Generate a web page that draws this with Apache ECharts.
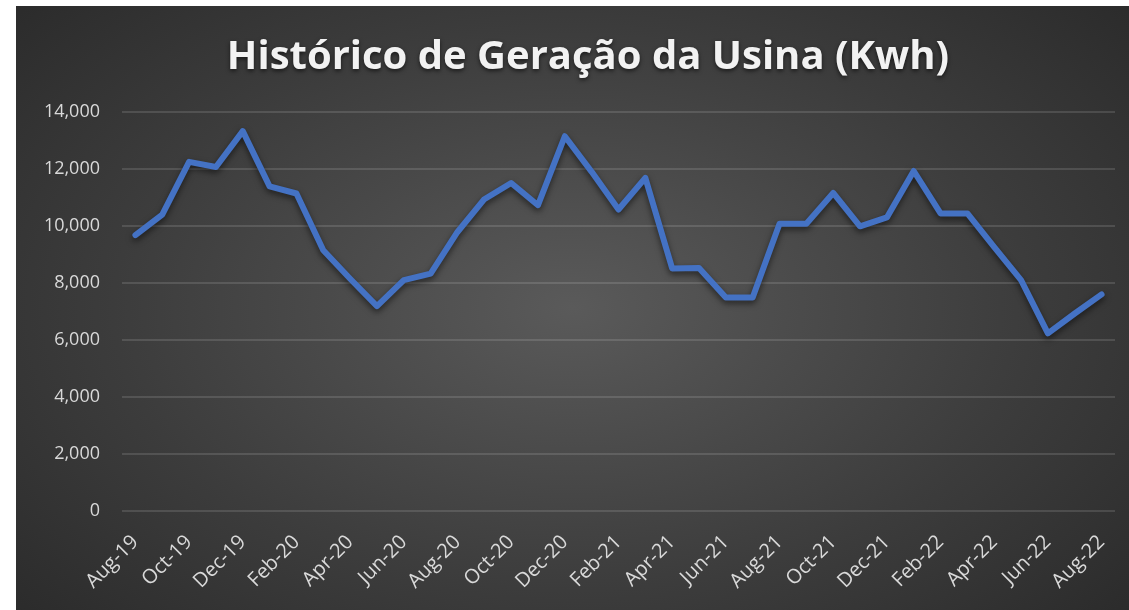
<!DOCTYPE html>
<html>
<head>
<meta charset="utf-8">
<script src="https://cdn.jsdelivr.net/npm/echarts@6/dist/echarts.min.js"></script>
<style>
  html, body { margin: 0; padding: 0; background: #ffffff; width: 1129px; height: 610px; overflow: hidden; }
  #wrap { position: absolute; left: 16px; top: 6px; width: 1113px; height: 604px;
          background: radial-gradient(ellipse 75% 85% at 50% 50%, #5a5a5a 0%, #3c3c3c 55%, #262626 100%); }
  #chart { width: 1113px; height: 604px; }
</style>
</head>
<body>
<div id="wrap"><div id="chart"></div></div>
<script>
const titleText = 'Histórico de Geração da Usina (Kwh)';
const months = ['Aug-19','Sep-19','Oct-19','Nov-19','Dec-19','Jan-20','Feb-20','Mar-20','Apr-20','May-20','Jun-20','Jul-20',
  'Aug-20','Sep-20','Oct-20','Nov-20','Dec-20','Jan-21','Feb-21','Mar-21','Apr-21','May-21','Jun-21','Jul-21',
  'Aug-21','Sep-21','Oct-21','Nov-21','Dec-21','Jan-22','Feb-22','Mar-22','Apr-22','May-22','Jun-22','Jul-22','Aug-22'];
const generation = [9680, 10400, 12250, 12070, 13330, 11390, 11140, 9150, 8150, 7190, 8100, 8330,
  9790, 10940, 11510, 10730, 13150, 11900, 10580, 11690, 8510, 8530, 7490, 7490,
  10080, 10080, 11160, 9990, 10300, 11930, 10440, 10440, 9260, 8100, 6230, 6930, 7600];
const yMin = 0, yMax = 14000, yStep = 2000;

const chart = echarts.init(document.getElementById('chart'), null, { renderer: 'canvas' });
chart.setOption({
  backgroundColor: 'transparent',
  animation: false,
  title: {
    text: titleText,
    left: 567, top: 27, textAlign: 'center',
    textStyle: {
      color: '#f2f2f2', fontFamily: 'Open Sans', fontWeight: 'bold', fontSize: 40,
      textShadowColor: 'rgba(0,0,0,0.6)', textShadowBlur: 4, textShadowOffsetY: 2
    }
  },
  grid: { left: 106, right: 14, top: 106, bottom: 99, containLabel: false },
  xAxis: {
    type: 'category',
    data: months,
    boundaryGap: true,
    axisLine: { show: false },
    axisTick: { show: false },
    axisLabel: {
      interval: 1, rotate: 45, color: '#d9d9d9', fontFamily: 'Open Sans', fontSize: 20, margin: 28
    }
  },
  yAxis: {
    type: 'value',
    min: yMin, max: yMax, interval: yStep,
    axisLine: { show: false },
    axisTick: { show: false },
    axisLabel: {
      color: '#d9d9d9', fontFamily: 'Open Sans', fontSize: 18, margin: 22,
      formatter: v => v.toLocaleString('en-US')
    },
    splitLine: { lineStyle: { color: 'rgba(255,255,255,0.17)', width: 1.5 } }
  },
  series: [{
    type: 'line',
    data: generation,
    symbol: 'none',
    lineStyle: { color: '#4472c4', width: 6, shadowColor: 'rgba(0,0,0,0.55)', shadowBlur: 6, shadowOffsetY: 3, cap: 'round', join: 'round' }
  }]
});
</script>
</body>
</html>
